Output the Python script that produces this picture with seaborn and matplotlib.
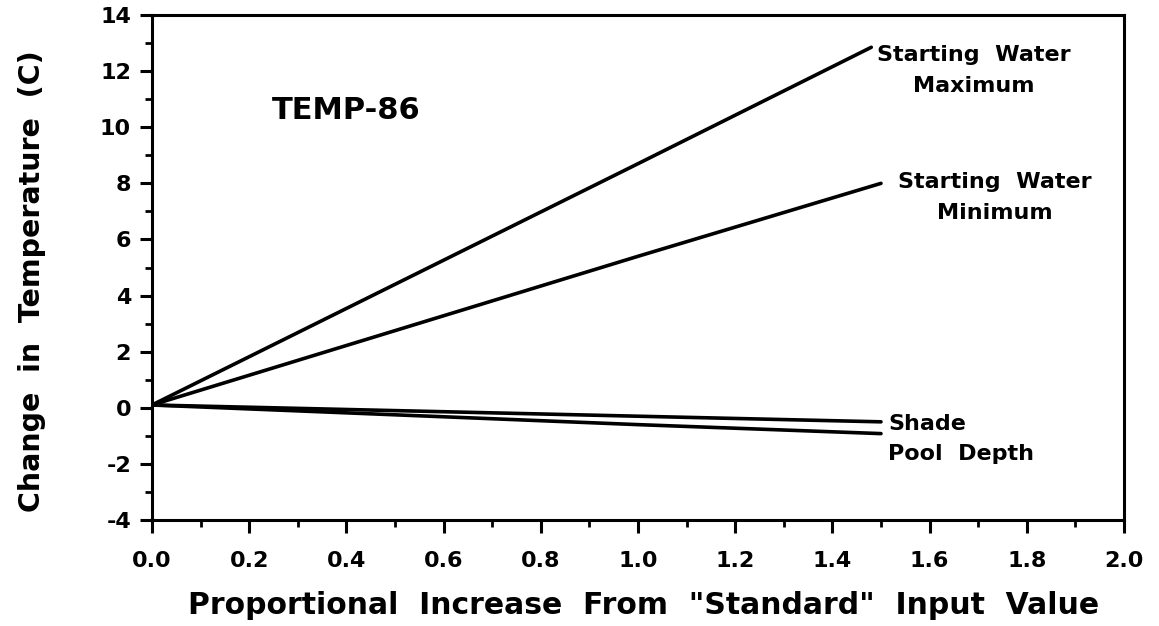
import numpy as np
import pandas as pd
import matplotlib
matplotlib.use("Agg")
import matplotlib.pyplot as plt
import seaborn as sns
from matplotlib.ticker import MultipleLocator, FormatStrFormatter

# Sensitivity of predicted temperature change to proportional input changes
series_names = ["Starting Water Maximum", "Starting Water Minimum", "Shade", "Pool Depth"]
x_max = [0.0, 0.5, 1.0, 1.48]
y_max = [0.1, 4.4, 8.7, 12.85]
x_min = [0.0, 0.5, 1.0, 1.5]
y_min = [0.1, 2.75, 5.4, 8.0]
x_shade = [0.0, 0.5, 1.0, 1.5]
y_shade = [0.1, -0.1, -0.3, -0.5]
x_pool = [0.0, 0.5, 1.0, 1.5]
y_pool = [0.1, -0.25, -0.6, -0.92]

frames = []
for name, xs, ys in zip(series_names,
                        [x_max, x_min, x_shade, x_pool],
                        [y_max, y_min, y_shade, y_pool]):
    frames.append(pd.DataFrame({"x": xs, "y": ys, "series": name}))
df = pd.concat(frames, ignore_index=True)

sns.set_theme(style="ticks")
plt.rcParams["font.family"] = ["DejaVu Sans"]
plt.rcParams["font.weight"] = "bold"

fig = plt.figure(figsize=(11.59, 6.26), dpi=100)
ax = fig.add_axes([0.1311, 0.1693, 0.8387, 0.8067])

sns.lineplot(data=df, x="x", y="y", hue="series", hue_order=series_names,
             palette=["black"] * 4, linewidth=2.6, legend=False,
             sort=False, ax=ax)

ax.set_xlim(0, 2.0)
ax.set_ylim(-4, 14)
ax.xaxis.set_major_locator(MultipleLocator(0.2))
ax.xaxis.set_minor_locator(MultipleLocator(0.1))
ax.yaxis.set_major_locator(MultipleLocator(2))
ax.yaxis.set_minor_locator(MultipleLocator(1))
ax.xaxis.set_major_formatter(FormatStrFormatter("%.1f"))
ax.yaxis.set_major_formatter(FormatStrFormatter("%d"))

for s in ax.spines.values():
    s.set_linewidth(2.2)
    s.set_color("black")

ax.tick_params(axis="both", which="major", direction="out", length=9, width=2.2,
               color="black", labelcolor="black")
ax.tick_params(axis="both", which="minor", direction="out", length=5, width=2.0,
               color="black")
ax.tick_params(axis="x", which="major", labelsize=16, pad=13)
ax.tick_params(axis="y", which="major", labelsize=16, pad=6)
for lab in ax.get_xticklabels() + ax.get_yticklabels():
    lab.set_fontweight("bold")

ax.set_xlabel('Proportional  Increase  From  "Standard"  Input  Value',
              fontsize=21.5, fontweight="bold", color="black")
ax.set_ylabel("Change  in  Temperature  (C)", fontsize=20.5, fontweight="bold",
              color="black")
ax.xaxis.set_label_coords(0.506, -0.14)
ax.yaxis.set_label_coords(-0.109, 0.473)

ax.text(0.247, 10.58, "TEMP-86", fontsize=22, fontweight="bold",
        va="center", ha="left", color="black")

lab_kw = dict(fontsize=16, fontweight="bold", color="black")
ax.text(1.69, 12.57, "Starting  Water", ha="center", va="center", **lab_kw)
ax.text(1.69, 11.47, "Maximum", ha="center", va="center", **lab_kw)
ax.text(1.735, 8.05, "Starting  Water", ha="center", va="center", **lab_kw)
ax.text(1.735, 6.94, "Minimum", ha="center", va="center", **lab_kw)
ax.text(1.515, -0.58, "Shade", ha="left", va="center", **lab_kw)
ax.text(1.515, -1.65, "Pool  Depth", ha="left", va="center", **lab_kw)

fig.savefig("out.png", dpi=100, facecolor="white")
